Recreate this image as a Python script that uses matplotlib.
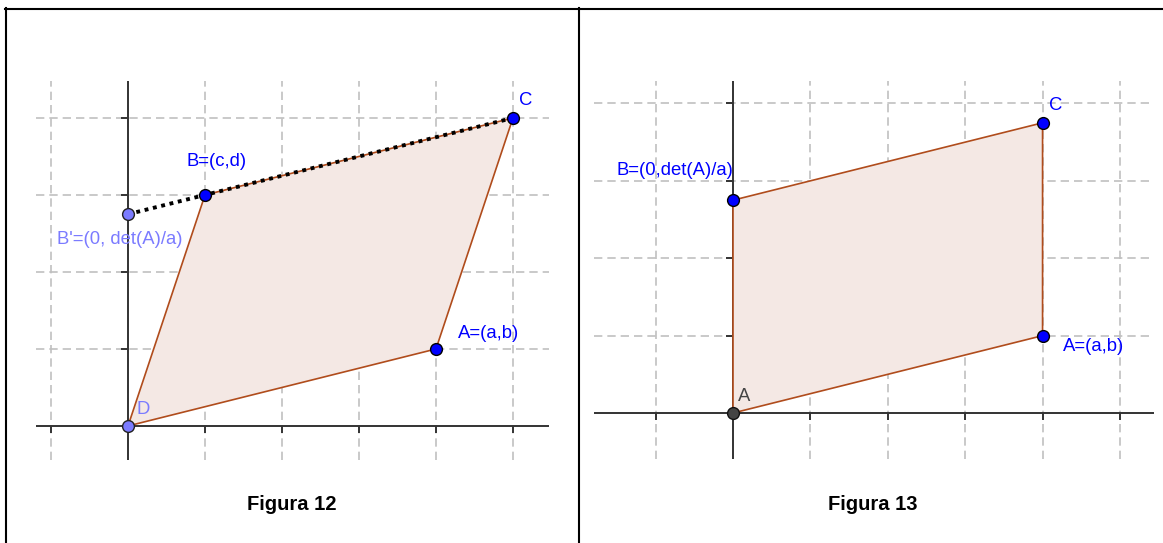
import matplotlib
matplotlib.use('Agg')
import matplotlib.pyplot as plt
from matplotlib.lines import Line2D

plt.rcParams['font.family'] = ['Liberation Sans', 'DejaVu Sans']

# vertices in grid units, order: origin, A, C, B
fig12_x = [0, 4, 5, 1]
fig12_y = [0, 1, 4, 3]
fig12_bprime = (0, 2.75)
fig13_x = [0, 4, 4, 0]
fig13_y = [0, 1, 3.75, 2.75]

grid_x = [-1, 0, 1, 2, 3, 4, 5]
grid_y = [1, 2, 3, 4]

fill_col = '#f4e8e4'
edge_col = '#b04c1c'
blue = '#0000ff'
light = '#7b7bff'

fig = plt.figure(figsize=(11.63, 5.43), dpi=100)
W, H = 1163, 543


def px_axes(x0, y_top, x1, y_bot):
    return fig.add_axes([x0 / W, (H - y_bot) / H, (x1 - x0) / W, (y_bot - y_top) / H])


def setup(ax, xlim, ylim):
    ax.set_xlim(*xlim)
    ax.set_ylim(*ylim)
    ax.set_xticks(grid_x)
    ax.set_yticks(grid_y)
    ax.tick_params(length=0, labelbottom=False, labelleft=False)
    for s in ax.spines.values():
        s.set_visible(False)
    ax.grid(True, color='#c0c0c0', lw=1.2, linestyle=(0, (5, 3)))
    ax.axhline(0, color='#333333', lw=1.4, zorder=2)
    ax.axvline(0, color='#333333', lw=1.4, zorder=2)
    tx = [v for v in grid_x if v != 0]
    ax.plot(tx, [0] * len(tx), ls='none', marker=3, ms=5, mew=1.4, color='#333333', zorder=2)
    ax.plot([0] * len(grid_y), grid_y, ls='none', marker=0, ms=5, mew=1.4, color='#333333', zorder=2)


def label(ax, xy, txt, dx, dy, color, ha='left'):
    ax.annotate(txt, xy=xy, xytext=(dx, -dy), textcoords='offset pixels',
                ha=ha, va='center', fontsize=13.3, color=color, annotation_clip=False)


# Figura 12
ax1 = px_axes(36, 81, 549, 460)
setup(ax1, (-1.195, 5.468), (-0.442, 4.48))
ax1.fill(fig12_x, fig12_y, facecolor=fill_col, edgecolor=edge_col, lw=1.2, zorder=3)
ax1.plot([fig12_bprime[0], fig12_x[2]], [fig12_bprime[1], fig12_y[2]],
         color='black', ls=(0, (1, 1.2)), lw=2.8, zorder=4)
ax1.plot(fig12_x[1:], fig12_y[1:], ls='none', marker='o', ms=8.5, mfc=blue, mec='black',
         mew=1, zorder=5, clip_on=False)
ax1.plot([fig12_x[0], fig12_bprime[0]], [fig12_y[0], fig12_bprime[1]], ls='none', marker='o',
         ms=8.5, mfc=light, mec='#222222', mew=1, zorder=5, clip_on=False)
label(ax1, (fig12_x[2], fig12_y[2]), 'C', 6, -17, blue)
label(ax1, (fig12_x[3], fig12_y[3]), 'B=(c,d)', -18, -33, blue)
label(ax1, fig12_bprime, "B'=(0, det(A)/a)", -71, 25, light)
label(ax1, (fig12_x[1], fig12_y[1]), 'A=(a,b)', 22, -15, blue)
label(ax1, (fig12_x[0], fig12_y[0]), 'D', 8, -16, light)

# Figura 13
ax2 = px_axes(594, 81, 1154, 459)
setup(ax2, (-1.796, 5.44), (-0.594, 4.29))
ax2.fill(fig13_x, fig13_y, facecolor=fill_col, edgecolor=edge_col, lw=1.2, zorder=3)
ax2.plot(fig13_x[1:], fig13_y[1:], ls='none', marker='o', ms=8.5, mfc=blue, mec='black',
         mew=1, zorder=5, clip_on=False)
ax2.plot(fig13_x[0], fig13_y[0], ls='none', marker='o', ms=8.5, mfc='#444444', mec='#111111',
         mew=1, zorder=5, clip_on=False)
label(ax2, (fig13_x[2], fig13_y[2]), 'C', 6, -17, blue)
label(ax2, (fig13_x[3], fig13_y[3]), 'B=(0,det(A)/a)', 0, -30, blue, ha='right')
label(ax2, (fig13_x[1], fig13_y[1]), 'A=(a,b)', 20, 11, blue)
label(ax2, (fig13_x[0], fig13_y[0]), 'A', 5, -17, '#444444')

# captions
fig.text(292 / W, 1 - 505 / H, 'Figura 12', ha='center', va='center', fontsize=14.5, fontweight='bold')
fig.text(873 / W, 1 - 505 / H, 'Figura 13', ha='center', va='center', fontsize=14.5, fontweight='bold')

# table borders
for xs, ys in [([6, 6], [8, 543]), ([5, 1163], [9, 9]), ([579, 579], [8, 543])]:
    fig.add_artist(Line2D([v / W for v in xs], [1 - v / H for v in ys],
                          transform=fig.transFigure, color='black', lw=1.5))

fig.savefig('out.png', dpi=100)
